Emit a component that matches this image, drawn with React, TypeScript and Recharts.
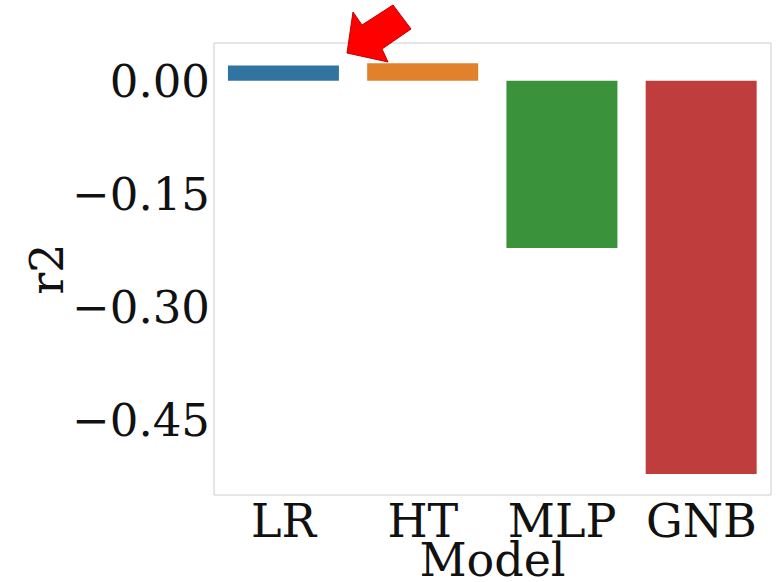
import React from 'react';
import { Bar, BarChart, Cell, XAxis, YAxis } from 'recharts';

const models = ['LR', 'HT', 'MLP', 'GNB'];
const r2Scores = [0.02, 0.023, -0.222, -0.522];
const barColors = ['#3274a1', '#e1812c', '#3a923a', '#c03d3e'];
const yTicks = [0, -0.15, -0.3, -0.45];

const data = models.map((model, i) => ({ model, r2: r2Scores[i] }));

const FONT = '"DejaVu Serif", serif';
const FRAME = '#cccccc';
const FS = 46;

const fmt = (v: number) => (v < 0 ? '\u2212' : '') + Math.abs(v).toFixed(2);

const YLabel = () => (
  <text
    x={47}
    y={269}
    transform="rotate(-90, 47, 269)"
    textAnchor="middle"
    dominantBaseline="central"
    fontFamily={FONT}
    fontSize={FS}
    fill="#111"
  >
    r2
  </text>
);

const App = () => {
  return (
    <div style={{ position: 'absolute', left: 0, top: 0, width: 782, height: 582, background: '#fff' }}>
      <BarChart
        width={782}
        height={582}
        data={data}
        margin={{ top: 42, right: 10, bottom: 0, left: 0 }}
        barCategoryGap="10%"
      >
        <XAxis
          dataKey="model"
          height={87}
          tickLine={false}
          tickSize={3}
          tickMargin={6}
          axisLine={{ stroke: FRAME }}
          tick={{ fontFamily: FONT, fontSize: FS, fill: '#111' }}
          label={{
            value: 'Model',
            position: 'insideBottom',
            offset: 6,
            fontFamily: FONT,
            fontSize: FS,
            fill: '#111',
          }}
        />
        <XAxis
          xAxisId="top"
          dataKey="model"
          orientation="top"
          height={1}
          tick={false}
          tickLine={false}
          axisLine={{ stroke: FRAME }}
        />
        <YAxis
          width={214}
          domain={[-0.55, 0.05]}
          ticks={yTicks}
          tickFormatter={fmt}
          tickLine={false}
          tickSize={3}
          tickMargin={1}
          axisLine={{ stroke: FRAME }}
          tick={{ fontFamily: FONT, fontSize: 45, fill: '#111' }}
          label={<YLabel />}
        />
        <YAxis
          yAxisId="right"
          orientation="right"
          width={1}
          domain={[-0.55, 0.05]}
          tick={false}
          tickLine={false}
          axisLine={{ stroke: FRAME }}
        />
        <Bar dataKey="r2" isAnimationActive={false}>
          {data.map((d, i) => (
            <Cell key={d.model} fill={barColors[i]} />
          ))}
        </Bar>
      </BarChart>
      <svg
        width={782}
        height={582}
        style={{ position: 'absolute', left: 0, top: 0, pointerEvents: 'none' }}
      >
        <polygon
          points="347,53 353,12 362,25 393,5 411,29 382,49 388,62"
          fill="#ff0000"
          stroke="#c00000"
          strokeWidth={1}
        />
      </svg>
    </div>
  );
};

export default App;
